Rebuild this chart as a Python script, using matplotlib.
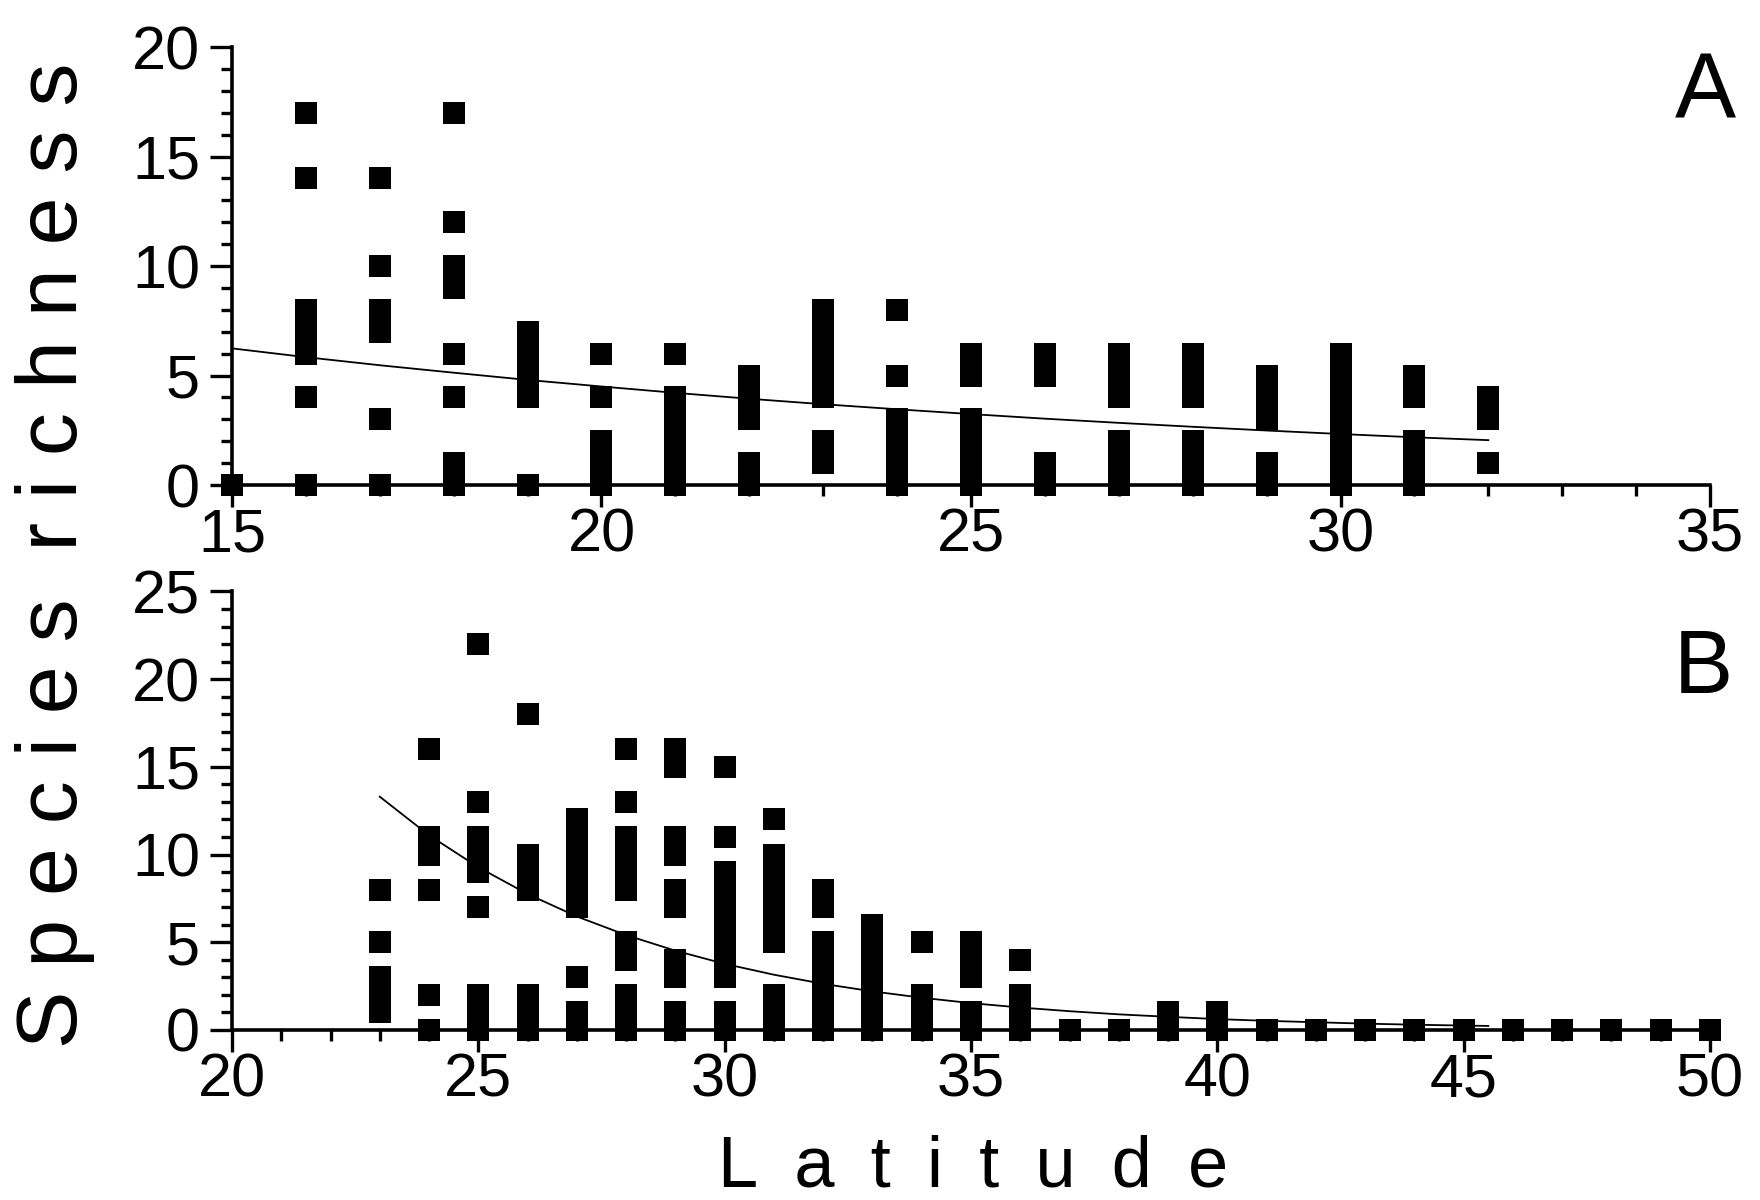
"""Species richness against latitude, two panels (A and B) with fitted decay curves."""

import matplotlib
matplotlib.use("Agg")
import matplotlib.pyplot as plt
from matplotlib.ticker import MultipleLocator

plt.rcParams["font.family"] = ["Liberation Sans", "DejaVu Sans"]

# Panel A: richness values recorded at each latitude
a_lat = [15, 16, 17, 18, 19, 20, 21, 22, 23, 24, 25, 26, 27, 28, 29, 30, 31, 32]
a_rich = [
    [0],
    [0, 4, 6, 7, 8, 14, 17],
    [0, 3, 7, 8, 10, 14],
    [0, 1, 4, 6, 9, 10, 12, 17],
    [0, 4, 5, 6, 7],
    [0, 1, 2, 4, 6],
    [0, 1, 2, 3, 4, 6],
    [0, 1, 3, 4, 5],
    [1, 2, 4, 5, 6, 7, 8],
    [0, 1, 2, 3, 5, 8],
    [0, 1, 2, 3, 5, 6],
    [0, 1, 5, 6],
    [0, 1, 2, 4, 5, 6],
    [0, 1, 2, 4, 5, 6],
    [0, 1, 3, 4, 5],
    [0, 1, 2, 3, 4, 5, 6],
    [0, 1, 2, 4, 5],
    [1, 3, 4],
]
# fitted curve in panel A
a_fit_lat = [15, 16, 17, 18, 19, 20, 21, 22, 23, 24, 25, 26, 27, 28, 29, 30, 31, 32]
a_fit = [6.24, 5.84, 5.47, 5.13, 4.80, 4.50, 4.21, 3.94, 3.69, 3.46,
         3.24, 3.03, 2.84, 2.66, 2.49, 2.33, 2.18, 2.05]

# Panel B
b_lat = list(range(23, 51))
b_rich = [
    [1, 2, 3, 5, 8],
    [0, 2, 8, 10, 11, 16],
    [0, 1, 2, 7, 9, 10, 11, 13, 22],
    [0, 1, 2, 8, 9, 10, 18],
    [0, 1, 3, 7, 8, 9, 10, 11, 12],
    [0, 1, 2, 4, 5, 8, 9, 10, 11, 13, 16],
    [0, 1, 3, 4, 7, 8, 10, 11, 15, 16],
    [0, 1, 3, 4, 5, 6, 7, 8, 9, 11, 15],
    [0, 1, 2, 5, 6, 7, 8, 9, 10, 12],
    [0, 1, 2, 3, 4, 5, 7, 8],
    [0, 1, 2, 3, 4, 5, 6],
    [0, 1, 2, 5],
    [0, 1, 3, 4, 5],
    [0, 1, 2, 4],
    [0],
    [0],
    [0, 1],
    [0, 1],
    [0], [0], [0], [0], [0], [0], [0], [0], [0], [0],
]
b_fit_lat = [23, 24, 25, 26, 27, 28, 29, 30, 31, 32, 33, 34, 35, 36, 37, 38,
             39, 40, 41, 42, 43, 44, 45, 45.5]
b_fit = [13.3, 11.1, 9.28, 7.75, 6.47, 5.41, 4.52, 3.77, 3.15, 2.63, 2.20,
         1.84, 1.53, 1.28, 1.07, 0.89, 0.75, 0.62, 0.52, 0.44, 0.36, 0.30,
         0.25, 0.23]


def expand(lats, rich):
    xs, ys = [], []
    for lat, vals in zip(lats, rich):
        for v in vals:
            xs.append(lat)
            ys.append(v)
    return xs, ys


def style_axis(ax, xlim, ylim):
    ax.set_xlim(*xlim)
    ax.set_ylim(*ylim)
    ax.spines["top"].set_visible(False)
    ax.spines["right"].set_visible(False)
    for side in ("left", "bottom"):
        ax.spines[side].set_linewidth(2.6)
    ax.xaxis.set_major_locator(MultipleLocator(5))
    ax.xaxis.set_minor_locator(MultipleLocator(1))
    ax.yaxis.set_major_locator(MultipleLocator(5))
    ax.yaxis.set_minor_locator(MultipleLocator(1))
    ax.tick_params(which="major", direction="out", length=16, width=2.4,
                   labelsize=44)
    ax.tick_params(which="minor", direction="out", length=8, width=2.4)
    ax.tick_params(axis="y", which="major", pad=7)
    ax.tick_params(axis="x", which="major", pad=0)


fig = plt.figure(figsize=(17.6, 12), dpi=100)
ax_a = fig.add_axes([0.1318, 0.5958, 0.8398, 0.3650])
ax_b = fig.add_axes([0.1318, 0.1417, 0.8398, 0.3654])

xa, ya = expand(a_lat, a_rich)
ax_a.plot(xa, ya, "s", color="black", ms=16.3, mew=0, clip_on=False, zorder=3)
ax_a.plot(a_fit_lat, a_fit, "-", color="black", lw=1.3, zorder=4)
style_axis(ax_a, (15, 35), (0, 20))

xb, yb = expand(b_lat, b_rich)
ax_b.plot(xb, yb, "s", color="black", ms=16.3, mew=0, clip_on=False, zorder=3)
ax_b.plot(b_fit_lat, b_fit, "-", color="black", lw=1.3, zorder=4)
style_axis(ax_b, (20, 50), (0, 25))

fig.text(0.969, 0.921, "A", fontsize=66, ha="center", va="center")
fig.text(0.968, 0.442, "B", fontsize=64, ha="center", va="center")

gap = "\u2002"
fig.text(0.553, 0.0265, gap.join("Latitude"), fontsize=52,
         ha="center", va="center")
fig.text(0.031, 0.537, "S p e c i e s  r i c h n e s s", fontsize=62,
         rotation=90, ha="center", va="center")

fig.savefig("out.png", dpi=100)
plt.close(fig)
